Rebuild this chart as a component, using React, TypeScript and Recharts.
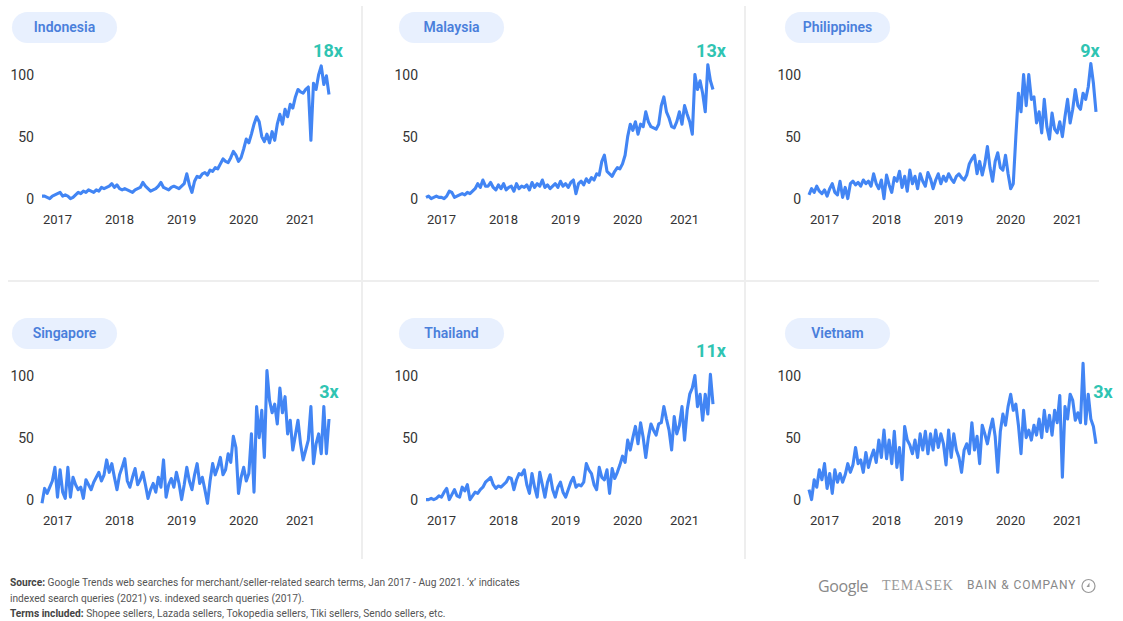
import { Line, LineChart, XAxis, YAxis } from "recharts";

// time index: 2 points per month, Jan 2017 .. Aug 2021
const yearTicks = [6, 30, 54, 78, 100];
const yearLabels = ["2017", "2018", "2019", "2020", "2021"];
const valueTicks = [0, 50, 100];

const countries = ["Indonesia", "Malaysia", "Philippines", "Singapore", "Thailand", "Vietnam"];
const growth = ["18x", "13x", "9x", "3x", "11x", "3x"];

const indonesia = [
  2, 2, 1, 0, 2, 3, 4, 5, 2, 3, 2, 0, 1, 3, 5, 4, 6, 5, 7, 6, 5, 7, 6, 9,
  8, 9, 10, 12, 9, 11, 8, 7, 8, 7, 6, 5, 7, 8, 9, 13, 10, 8, 6, 7, 8, 10, 13, 9,
  8, 7, 9, 10, 9, 8, 10, 12, 20, 11, 5, 14, 18, 17, 20, 21, 19, 23, 22, 25, 24, 28, 32, 30,
  29, 33, 38, 35, 30, 33, 40, 48, 45, 52, 60, 66, 62, 50, 46, 52, 45, 54, 47, 60, 68, 60, 72, 66,
  76, 73, 82, 88, 86, 85, 88, 90, 47, 93, 88, 100, 107, 92, 99, 84,
];

const malaysia = [
  1, 2, 0, 1, 2, 1, 1, 0, 2, 6, 5, 1, 2, 3, 4, 3, 5, 4, 6, 8, 12, 9, 15, 10,
  10, 13, 9, 7, 11, 8, 12, 7, 9, 10, 6, 12, 8, 10, 9, 11, 7, 13, 9, 12, 10, 15, 9, 11,
  8, 10, 12, 9, 14, 10, 12, 9, 13, 15, 4, 12, 14, 11, 16, 13, 17, 15, 20, 19, 30, 35, 22, 20,
  18, 22, 25, 24, 28, 35, 50, 60, 55, 62, 52, 60, 58, 70, 62, 58, 57, 56, 60, 75, 82, 70, 65, 58,
  57, 62, 70, 60, 75, 68, 62, 52, 100, 88, 95, 85, 70, 108, 95, 88,
];

const philippines = [
  3, 8, 5, 10, 6, 4, 7, 2, 8, 12, 5, 3, 14, 1, 9, 0, 12, 14, 11, 13, 10, 15, 12, 14,
  10, 20, 12, 8, 15, 0, 19, 11, 5, 17, 14, 22, 9, 18, 6, 23, 12, 18, 8, 20, 14, 10, 21, 16,
  8, 15, 20, 12, 18, 14, 20, 16, 13, 18, 20, 17, 15, 19, 28, 32, 35, 20, 30, 19, 28, 42, 25, 14,
  30, 37, 25, 23, 35, 20, 8, 12, 50, 85, 70, 100, 75, 100, 80, 82, 61, 70, 53, 80, 58, 48, 69, 56,
  53, 62, 50, 66, 80, 61, 72, 88, 75, 72, 85, 80, 90, 109, 93, 70,
];

const singapore = [
  -3, 9, 5, 10, 15, 26, 2, 24, 6, 1, 26, 2, 18, 12, 8, 10, 1, 16, 12, 8, 14, 18, 22, 15,
  20, 32, 22, 29, 18, 8, 20, 26, 33, 15, 10, 18, 25, 12, 16, 22, 12, 1, 8, 13, 6, 18, 10, 32,
  2, 12, 17, 10, 22, 13, 0, 12, 26, 15, 8, 20, 29, 13, 18, 8, -3, 15, 29, 20, 26, 34, 20, 24,
  37, 30, 51, 42, 5, 18, 26, 15, 21, 53, 6, 75, 50, 72, 34, 104, 80, 70, 77, 61, 90, 70, 83, 53,
  64, 40, 52, 64, 45, 32, 40, 48, 75, 29, 45, 53, 37, 75, 37, 65,
];

const thailand = [
  0, 0, 1, 0, 1, 3, 2, 6, 9, 0, 4, 8, 3, 2, 10, 7, 12, 0, 3, 6, 5, 8, 10, 14,
  16, 18, 12, 9, 11, 10, 12, 14, 18, 17, 8, 16, 21, 20, 24, 12, 5, 21, 10, 2, 22, 12, 2, 14,
  20, 8, 2, 10, 14, 6, 2, 8, 14, 18, 10, 12, 11, 14, 29, 24, 21, 12, 8, 26, 18, 16, 24, 5,
  25, 17, 22, 28, 35, 30, 48, 40, 50, 59, 45, 62, 50, 34, 50, 61, 56, 52, 61, 62, 75, 65, 56, 40,
  67, 53, 60, 75, 48, 72, 85, 90, 100, 75, 85, 64, 85, 69, 101, 77,
];

const vietnam = [
  8, 0, 16, 10, 24, 16, 29, 9, 21, 5, 24, 14, 21, 14, 20, 29, 22, 28, 42, 29, 32, 22, 38, 26,
  34, 40, 30, 48, 34, 56, 33, 48, 29, 55, 26, 42, 16, 59, 48, 44, 37, 48, 34, 53, 40, 55, 37, 53,
  40, 56, 42, 53, 45, 28, 56, 34, 53, 40, 34, 22, 40, 45, 37, 62, 40, 51, 29, 60, 53, 45, 56, 65,
  51, 22, 55, 69, 60, 75, 85, 72, 77, 60, 37, 72, 50, 56, 48, 60, 52, 65, 50, 72, 55, 68, 52, 72,
  62, 84, 18, 75, 65, 85, 80, 64, 70, 62, 110, 61, 85, 65, 59, 45,
];

const series = [indonesia, malaysia, philippines, singapore, thailand, vietnam];

// layout (pixels)
const PLOT_LEFT = [42, 426, 809];
const PILL_LEFT = [12, 399, 785];
const ROW_TOP = [0, 301];
const PILL_TOP = [12, 318];
const GROWTH_POS = [
  { x: 328, y: 51 },
  { x: 711, y: 51 },
  { x: 1090, y: 51 },
  { x: 329, y: 392 },
  { x: 711, y: 351 },
  { x: 1103, y: 392 },
];

const BLUE = "#4285F4";
const TEAL = "#2FC4B2";
const FONT = "Roboto, 'Noto Sans', sans-serif";

interface PanelProps {
  index: number;
}

function CountryPanel({ index }: PanelProps) {
  const col = index % 3;
  const row = Math.floor(index / 3);
  const data = series[index].map((v, i) => ({ t: i, v }));
  const g = GROWTH_POS[index];

  return (
    <>
      <div
        style={{
          position: "absolute",
          left: PILL_LEFT[col],
          top: PILL_TOP[row],
          width: 105,
          height: 31,
          borderRadius: 16,
          background: "#E8F0FE",
          color: "#4A7FDB",
          fontSize: 14,
          fontWeight: 600,
          lineHeight: "31px",
          textAlign: "center",
        }}
      >
        {countries[index]}
      </div>

      <div
        style={{
          position: "absolute",
          left: g.x - 30,
          top: g.y - 11,
          width: 60,
          textAlign: "center",
          color: TEAL,
          fontSize: 18,
          fontWeight: 700,
          lineHeight: "22px",
        }}
      >
        {growth[index]}
      </div>

      <div
        style={{
          position: "absolute",
          left: PLOT_LEFT[col] - 42,
          top: ROW_TOP[row],
        }}
      >
        <LineChart
          width={340}
          height={231}
          data={data}
          margin={{ top: 56, right: 11, bottom: 0, left: 0 }}
        >
          <XAxis
            dataKey="t"
            type="number"
            domain={[0, 111]}
            ticks={yearTicks}
            tickFormatter={(t: number) => yearLabels[yearTicks.indexOf(t)]}
            axisLine={false}
            tickLine={false}
            tickSize={0}
            tickMargin={4}
            height={20}
            interval={0}
            tick={{ fontSize: 13, fill: "#333", fontFamily: FONT }}
          />
          <YAxis
            domain={[-10, 115]}
            ticks={valueTicks}
            allowDataOverflow
            axisLine={false}
            tickLine={false}
            tickSize={0}
            tickMargin={8}
            width={42}
            interval={0}
            tick={{ fontSize: 14, fill: "#333", fontFamily: FONT }}
          />
          <Line
            type="linear"
            dataKey="v"
            stroke={BLUE}
            strokeWidth={3.1}
            strokeLinejoin="round"
            dot={false}
            activeDot={false}
            isAnimationActive={false}
          />
        </LineChart>
      </div>
    </>
  );
}

export default function App() {
  return (
    <div
      style={{
        position: "absolute",
        left: 0,
        top: 0,
        width: 1123,
        height: 621,
        background: "#fff",
        fontFamily: FONT,
        overflow: "hidden",
      }}
    >
      {/* grid lines */}
      <div style={{ position: "absolute", left: 361, top: 6, width: 2, height: 553, background: "#EEEEEE" }} />
      <div style={{ position: "absolute", left: 744, top: 6, width: 2, height: 553, background: "#EEEEEE" }} />
      <div style={{ position: "absolute", left: 8, top: 280, width: 1091, height: 2, background: "#EEEEEE" }} />

      {countries.map((c, i) => (
        <CountryPanel key={c} index={i} />
      ))}

      {/* Footer */}
      <div
        style={{
          position: "absolute",
          left: 10,
          top: 575,
          fontSize: 10.2,
          lineHeight: "15.5px",
          color: "#555",
        }}
      >
        <div>
          <b style={{ color: "#444" }}>Source:</b> Google Trends web searches for merchant/seller-related search terms, Jan 2017 - Aug 2021. ‘x’ indicates
        </div>
        <div>indexed search queries (2021) vs. indexed search queries (2017).</div>
        <div>
          <b style={{ color: "#444" }}>Terms included:</b> Shopee sellers, Lazada sellers, Tokopedia sellers, Tiki sellers, Sendo sellers, etc.
        </div>
      </div>

      <div
        style={{
          position: "absolute",
          left: 818,
          top: 575,
          fontSize: 16,
          letterSpacing: -0.4,
          color: "#888",
          fontFamily: "'Open Sans', sans-serif",
        }}
      >
        Google
      </div>
      <div
        style={{
          position: "absolute",
          left: 882,
          top: 578,
          fontSize: 14,
          color: "#999",
          letterSpacing: 0.8,
          fontFamily: "'Liberation Serif', serif",
        }}
      >
        TEMASEK
      </div>
      <div
        style={{
          position: "absolute",
          left: 967,
          top: 578,
          fontSize: 12,
          color: "#888",
          letterSpacing: 0.85,
        }}
      >
        BAIN &amp; COMPANY
      </div>
      <svg style={{ position: "absolute", left: 1081, top: 578 }} width={15} height={16}>
        <circle cx={7.5} cy={8} r={6.5} fill="none" stroke="#999" strokeWidth={1.2} />
        <path d="M8.5 4.5 L8.5 9 L5.5 9 Z" fill="#999" />
      </svg>
    </div>
  );
}
